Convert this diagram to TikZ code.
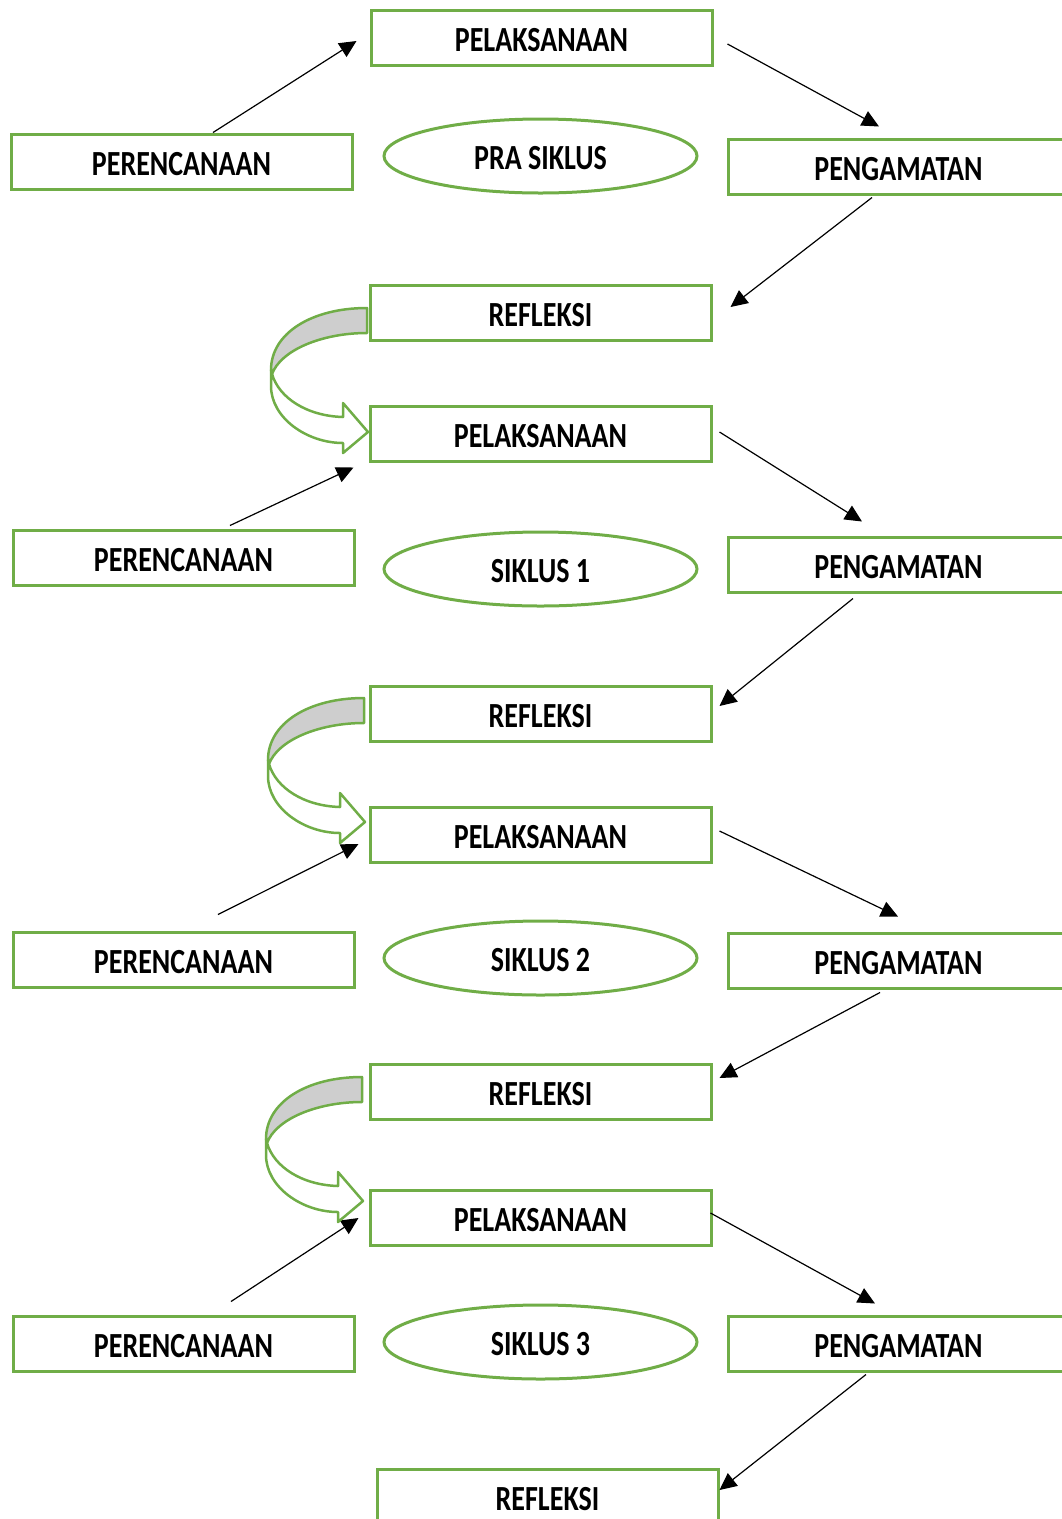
\documentclass[tikz,border=0pt]{standalone}
\usepackage{fontspec}
\setmainfont{Carlito}
\usepackage{graphicx}
\usetikzlibrary{arrows.meta,shapes.geometric}
\definecolor{boxgreen}{RGB}{112,173,71}
\definecolor{bandgray}{RGB}{206,206,206}
\newcommand{\tall}[1]{\raisebox{-2.5pt}[\height][\depth]{\scalebox{1}[1.26]{#1}}}
\tikzset{
  box/.style={draw=boxgreen, line width=3pt, minimum width=341pt, minimum height=55pt,
    inner sep=0pt, font=\fontsize{28}{30}\selectfont\bfseries},
  cycle/.style={ellipse, draw=boxgreen, line width=3pt, minimum width=313pt, minimum height=74pt,
    inner sep=0pt, font=\fontsize{28}{30}\selectfont\bfseries},
  arr/.style={-{Triangle[length=17pt,width=16pt]}, line width=1.2pt},
  turn/.style={draw=boxgreen, line width=2.5pt, line join=round},
}
\begin{document}
\begin{tikzpicture}[x=1pt,y=-1pt]
    \useasboundingbox (0,0) rectangle (1061,1519);
    % pra siklus
    \node[box] (pel0) at (541.5,37.5) {\tall{PELAKSANAAN}};
    \node[box] (per0) at (181.5,161.5) {\tall{PERENCANAAN}};
    \node[cycle] (pra) at (540.5,156) {\tall{PRA SIKLUS}};
    \node[box] (eng0) at (898.5,166.5) {\tall{PENGAMATAN}};
    \node[box] (ref0) at (540.5,312.5) {\tall{REFLEKSI}};
    % siklus 1
    \node[box] (pel1) at (540.5,433.5) {\tall{PELAKSANAAN}};
    \node[box] (per1) at (183.5,557.5) {\tall{PERENCANAAN}};
    \node[cycle] (sik1) at (540.5,569) {\tall{SIKLUS 1}};
    \node[box] (eng1) at (898.5,564.5) {\tall{PENGAMATAN}};
    \node[box] (ref1) at (540.5,713.5) {\tall{REFLEKSI}};
    % siklus 2
    \node[box] (pel2) at (540.5,834.5) {\tall{PELAKSANAAN}};
    \node[box] (per2) at (183.5,959.5) {\tall{PERENCANAAN}};
    \node[cycle] (sik2) at (540.5,958) {\tall{SIKLUS 2}};
    \node[box] (eng2) at (898.5,960.5) {\tall{PENGAMATAN}};
    \node[box] (ref2) at (540.5,1091.5) {\tall{REFLEKSI}};
    % siklus 3
    \node[box] (pel3) at (540.5,1217.5) {\tall{PELAKSANAAN}};
    \node[box] (per3) at (183.5,1343.5) {\tall{PERENCANAAN}};
    \node[cycle] (sik3) at (540.5,1342) {\tall{SIKLUS 3}};
    \node[box] (eng3) at (898.5,1343.5) {\tall{PENGAMATAN}};
    \node[box] (ref3) at (547.5,1496.5) {\tall{REFLEKSI}};
    \foreach \u/\ux/\uy/\v/\vx/\vy in {
      per0.north/31.5/0/pel0.west/-13/3.5, pel0.east/14/6.5/eng0.north/-19.5/-11,
      eng0.south/-26.5/2/ref0.east/18/-5.5,
      per1.north/46.5/-3/pel1.south west/-15/5, pel1.east/7/-1.5/eng1.north/-36.5/-14,
      eng1.south/-45.5/5/ref1.east/7/-7.5,
      per2.north/34.5/-16/pel2.west/-10/9.5, pel2.east/7/-3.5/eng2.north/-0.5/-15,
      eng2.south/-18.5/3/ref2.east/7/-13.5,
      per3.north/47.5/-13/pel3.west/-10/0.5, pel3.east/-2/-4.5/eng3.north/-23.5/-11,
      eng3.south/-32.5/2/ref3.east/0/-6.5}
      { \draw[arr] ([shift={(\ux,\uy)}]\u) -- ([shift={(\vx,\vy)}]\v); }
    % curved arrows from refleksi back to pelaksanaan
    \foreach \px/\py in {367/308, 364/698, 362/1077} {
      \begin{scope}[shift={(\px,\py)}]
        \draw[turn, fill=bandgray] (0,0) .. controls (-55,0) and (-96,25) .. (-96,62)
          -- (-95,66) .. controls (-86,42) and (-45,25) .. (0,25) -- cycle;
        \draw[turn, fill=white] (-96,62) -- (-96,78) .. controls (-96,110) and (-60,135) .. (-24,135)
          -- (-24,145) -- (1,124) -- (-24,95) -- (-24,109)
          .. controls (-60,108) and (-88,90) .. (-95,66) -- cycle;
      \end{scope}
    }
\end{tikzpicture}
\end{document}
